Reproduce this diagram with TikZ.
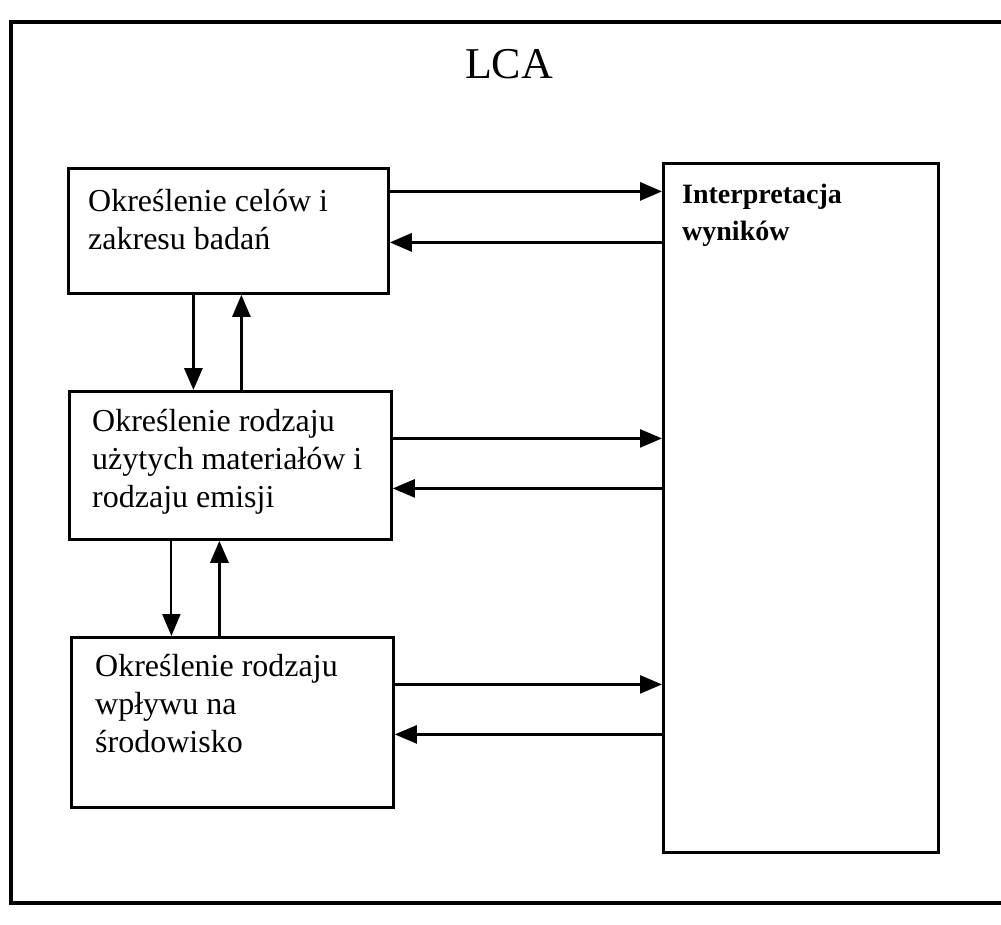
\documentclass[tikz,border=0pt]{standalone}
\usepackage{fontspec}
\setmainfont{Liberation Serif}
\usetikzlibrary{arrows.meta}

\tikzset{
	box/.style={draw, line width=2.8pt, rectangle, inner sep=0pt, anchor=north west},
	boxtext/.style={anchor=north west, align=left, inner sep=0pt, font=\fontsize{32}{38}\selectfont},
	arr/.style={-{Triangle[length=22pt,width=18pt]}, line width=2.5pt},
}

\begin{document}
\begin{tikzpicture}[x=1pt,y=-1pt]
		\useasboundingbox (0,0) rectangle (1001,924);
		% ramka LCA
		\draw[line width=3.5pt] (1010,22) -- (11,22) -- (11,903) -- (1010,903);
		\node[anchor=base, inner sep=0pt, font=\fontsize{44}{50}\selectfont] (lca) at (509,78) {LCA};
		% bloki
		\node[box, minimum width=320pt, minimum height=125pt] (cele) at (67,167) {};
		\node[box, minimum width=322pt, minimum height=148pt] (rodzaj) at (68,390) {};
		\node[box, minimum width=322pt, minimum height=170pt] (wplyw) at (70,636) {};
		\node[box, minimum width=275pt, minimum height=689pt] (wyniki) at (662,162) {};
		\node[boxtext] (celetxt) at (88,189) {Określenie celów i\\zakresu badań};
		\node[boxtext] (rodzajtxt) at (92,409) {Określenie rodzaju\\użytych materiałów i\\rodzaju emisji};
		\node[boxtext] (wplywtxt) at (95,654) {Określenie rodzaju\\wpływu na\\środowisko};
		\node[boxtext, font=\fontsize{28}{37}\selectfont\bfseries] (wynikitxt) at (682,184) {Interpretacja\\wyników};
		% strzalki poziome
		\draw[arr, line width=3.2pt] ([yshift=39.5pt]cele.east) -- ([yshift=39.5pt]cele.east -| wyniki.west);
		\draw[arr, line width=3.2pt] ([yshift=-11.5pt]cele.east -| wyniki.west) -- ([yshift=-11.5pt]cele.east);
		\draw[arr] ([yshift=27pt]rodzaj.east) -- ([yshift=27pt]rodzaj.east -| wyniki.west);
		\draw[arr] ([yshift=-23pt]rodzaj.east -| wyniki.west) -- ([yshift=-23pt]rodzaj.east);
		\draw[arr] ([yshift=38pt]wplyw.east) -- ([yshift=38pt]wplyw.east -| wyniki.west);
		\draw[arr] ([yshift=-12pt]wplyw.east -| wyniki.west) -- ([yshift=-12pt]wplyw.east);
		% strzalki pionowe
		\draw[arr, line width=3.2pt] ([xshift=-35pt]cele.south) -- ([xshift=-35pt]cele.south |- rodzaj.north);
		\draw[arr] ([xshift=13pt]cele.south |- rodzaj.north) -- ([xshift=13pt]cele.south);
		\draw[arr, line width=2pt] ([xshift=-59pt]rodzaj.south) -- ([xshift=-59pt]rodzaj.south |- wplyw.north);
		\draw[arr, line width=3.2pt] ([xshift=-11pt]rodzaj.south |- wplyw.north) -- ([xshift=-11pt]rodzaj.south);
\end{tikzpicture}
\end{document}
